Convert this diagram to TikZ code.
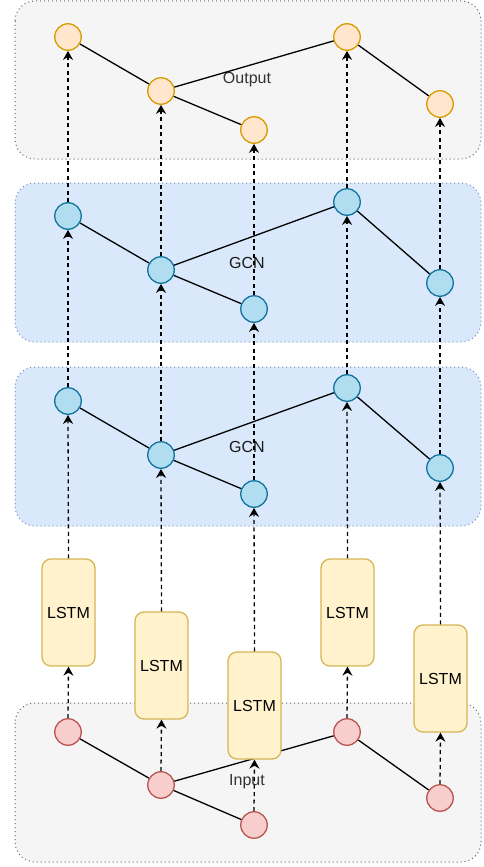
\documentclass[tikz,border=0pt]{standalone}
\usepackage{fontspec}
\setmainfont{Liberation Sans}
\usetikzlibrary{arrows.meta}
\definecolor{panelgray}{HTML}{F5F5F5}
\definecolor{panelgraystroke}{HTML}{666666}
\definecolor{panelblue}{HTML}{DAE8FC}
\definecolor{panelbluestroke}{HTML}{6C8EBF}
\definecolor{outfill}{HTML}{FFE6CC}
\definecolor{outstroke}{HTML}{D79B00}
\definecolor{gcnfill}{HTML}{B1DDF0}
\definecolor{gcnstroke}{HTML}{10739E}
\definecolor{infill}{HTML}{F8CECC}
\definecolor{instroke}{HTML}{B85450}
\definecolor{lstmfill}{HTML}{FFF2CC}
\definecolor{lstmstroke}{HTML}{D6B656}
\definecolor{labelgray}{HTML}{333333}
\tikzset{
  graypanel/.style={fill=panelgray, draw=panelgraystroke, line width=1pt, dash pattern=on 1pt off 3pt, rounded corners=20pt},
  bluepanel/.style={fill=panelblue, draw=panelbluestroke, line width=1pt, dash pattern=on 1pt off 3pt, rounded corners=20pt},
  vtx/.style={circle, minimum size=26.5pt, inner sep=0pt, line width=1.3pt},
  outvtx/.style={vtx, fill=outfill, draw=outstroke},
  gcnvtx/.style={vtx, fill=gcnfill, draw=gcnstroke},
  invtx/.style={vtx, fill=infill, draw=instroke},
  lstmbox/.style={rectangle, rounded corners=9pt, fill=lstmfill, draw=lstmstroke, line width=1.3pt, minimum width=53pt, minimum height=107pt, inner sep=0pt, font=\fontsize{16}{18}\selectfont},
  edge/.style={draw=black, line width=1.3pt},
  flow/.style={draw=black, line width=1.3pt, dash pattern=on 4pt off 3.5pt, -{Stealth[length=9pt,width=10pt,inset=3pt]}},
  paneltext/.style={font=\fontsize{16}{18}\selectfont, text=labelgray},
  gcntext/.style={font=\fontsize{16}{18}\selectfont, text=black!90}
}
\begin{document}
\begin{tikzpicture}[x=1pt,y=-1pt]
\useasboundingbox (0,0) rectangle (484,867);
% panels
\path[graypanel] (15,1) rectangle (481,159);
\path[bluepanel] (15,183) rectangle (481,342);
\path[bluepanel] (15,367) rectangle (481,526);
\path[graypanel] (15,703) rectangle (481,862);
% labels
\node[paneltext] (lout) at (247,80) {Output};
\node[gcntext] (lg1) at (247,263) {GCN};
\node[gcntext] (lg2) at (247,447) {GCN};
% output graph
\node[outvtx] (o1) at (68,37) {};
\node[outvtx] (o2) at (161,91) {};
\node[outvtx] (o3) at (254,130) {};
\node[outvtx] (o4) at (347,37) {};
\node[outvtx] (o5) at (440,104) {};
% gcn 1
\node[gcnvtx] (a1) at (68,216) {};
\node[gcnvtx] (a2) at (161,270) {};
\node[gcnvtx] (a3) at (254,309) {};
\node[gcnvtx] (a4) at (347,202) {};
\node[gcnvtx] (a5) at (440,283) {};
% gcn 2
\node[gcnvtx] (b1) at (68,401) {};
\node[gcnvtx] (b2) at (161,455) {};
\node[gcnvtx] (b3) at (254,494) {};
\node[gcnvtx] (b4) at (347,388) {};
\node[gcnvtx] (b5) at (440,468) {};
% input
\node[invtx] (i1) at (68,732) {};
\node[invtx] (i2) at (161,785) {};
\node[invtx] (i3) at (254,825) {};
\node[invtx] (i4) at (347,732) {};
\node[invtx] (i5) at (440,798) {};
\node[paneltext] (lin) at (247,782) {Input};
% edges
\foreach \g in {o,a,b,i}{
  \draw[edge] (\g1) -- (\g2);
  \draw[edge] (\g2) -- (\g3);
  \draw[edge] (\g2) -- (\g4);
  \draw[edge] (\g4) -- (\g5);
}
% LSTM boxes
\node[lstmbox] (l1) at (68.5,612.5) {LSTM};
\node[lstmbox] (l2) at (161.5,665.5) {LSTM};
\node[lstmbox] (l3) at (254.5,705.5) {LSTM};
\node[lstmbox] (l4) at (347.5,612.5) {LSTM};
\node[lstmbox] (l5) at (440.5,678.5) {LSTM};
% flows
\foreach \k in {1,...,5}{
  \draw[flow] (i\k.north) -- (l\k.south);
  \draw[flow] (l\k.north) -- (b\k.south);
  \draw[flow] (b\k.north) -- (a\k.south);
  \draw[flow] (a\k.north) -- (o\k.south);
}
\end{tikzpicture}
\end{document}
